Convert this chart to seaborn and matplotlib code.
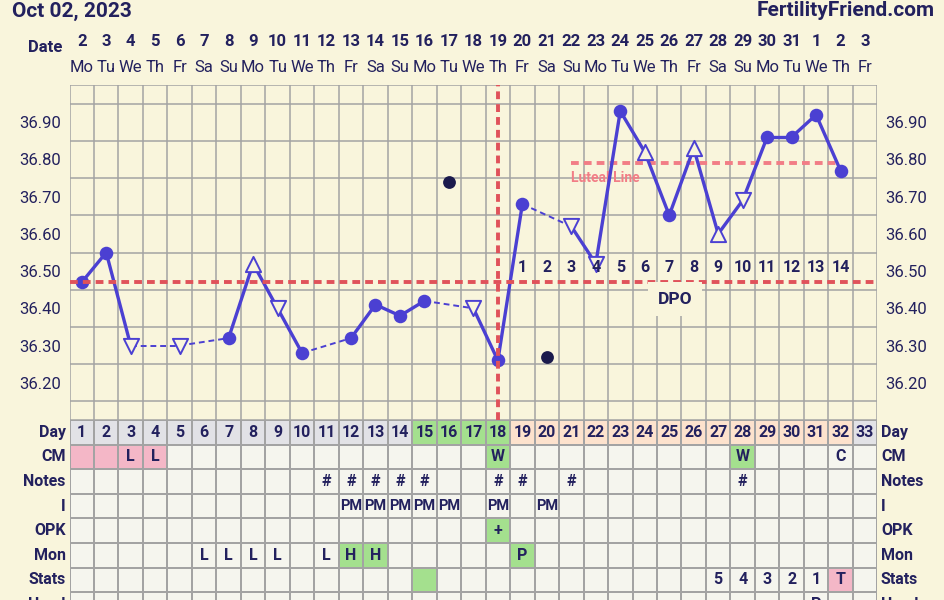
import numpy as np
import pandas as pd
import matplotlib
matplotlib.use("Agg")
import matplotlib.pyplot as plt
import seaborn as sns
from matplotlib.colors import ListedColormap

# ---------------- data ----------------
title_left = "Oct 02, 2023"
title_right = "FertilityFriend.com"
cycle_days = list(range(1, 34))
date_labels = ["2", "3", "4", "5", "6", "7", "8", "9", "10", "11", "12", "13", "14", "15",
               "16", "17", "18", "19", "20", "21", "22", "23", "24", "25", "26", "27",
               "28", "29", "30", "31", "1", "2", "3"]
weekday_labels = ["Mo", "Tu", "We", "Th", "Fr", "Sa", "Su"] * 4 + ["Mo", "Tu", "We", "Th", "Fr"]

temp_days = [1, 2, 3, 5, 7, 8, 9, 10, 12, 13, 14, 15, 17, 18, 19,
             21, 22, 23, 24, 25, 26, 27, 28, 29, 30, 31, 32]
temp_values = [36.47, 36.55, 36.30, 36.30, 36.32, 36.52, 36.40, 36.28, 36.32, 36.41,
               36.38, 36.42, 36.40, 36.26, 36.68, 36.62, 36.52, 36.93, 36.82, 36.65,
               36.83, 36.60, 36.69, 36.86, 36.86, 36.92, 36.77]
temp_markers = ["o", "o", "v", "v", "o", "^", "v", "o", "o", "o", "o", "o", "v", "o", "o",
                "v", "v", "o", "^", "o", "^", "^", "v", "o", "o", "o", "o"]

discard_days = [16, 20]
discard_values = [36.74, 36.27]

coverline_temp = 36.47
ovulation_day = 18
luteal_temp = 36.79
luteal_start, luteal_end = 21, 31.9
dpo_days = list(range(19, 33))
dpo_labels = [str(i) for i in range(1, 15)]
temp_ticks = [36.20, 36.30, 36.40, 36.50, 36.60, 36.70, 36.80, 36.90]

row_names = ["Day", "CM", "Notes", "I", "OPK", "Mon", "Stats", "Head"]
# cell colour codes: 0 plain, 1 grey, 2 green, 3 peach, 4 pink
day_row_colors = [1] * 14 + [2] * 4 + [3] * 14 + [1]
cm_colored = {1: 4, 2: 4, 3: 4, 4: 4, 18: 2, 28: 2}
opk_colored = {18: 2}
mon_colored = {12: 2, 13: 2, 19: 2}
stats_colored = {15: 2, 32: 4}
cm_text = {3: "L", 4: "L", 18: "W", 28: "W", 32: "C"}
notes_text = {11: "#", 12: "#", 13: "#", 14: "#", 15: "#", 18: "#", 19: "#", 21: "#", 28: "#"}
i_text = {12: "PM", 13: "PM", 14: "PM", 15: "PM", 16: "PM", 18: "PM", 20: "PM"}
opk_text = {18: "+"}
mon_text = {6: "L", 7: "L", 8: "L", 9: "L", 11: "L", 12: "H", 13: "H", 19: "P"}
stats_text = {27: "5", 28: "4", 29: "3", 30: "2", 31: "1", 32: "T"}
head_text = {31: "P"}

# ---------------- style ----------------
BG = "#f9f5dc"
NAVY = "#23215e"
LINE = "#4b40d2"
GRID = "#a3a3a3"
RED = "#e0525a"
LUTEAL = "#f27d86"
CELL_COLORS = ["#f5f5ee", "#e2e2e6", "#a4e08e", "#fde2cd", "#f4b7c7"]

plt.rcParams["font.family"] = ["Roboto", "DejaVu Sans"]
plt.rcParams["text.color"] = NAVY

W, H = 944, 600
fig = plt.figure(figsize=(W / 100, H / 100), dpi=100, facecolor=BG)

L, R = 69.5, 877.3
TOP, BOT = 85, 420
ax = fig.add_axes([L / W, 1 - BOT / H, (R - L) / W, (BOT - TOP) / H])
ax.set_facecolor(BG)

# segments: solid between consecutive days, dashed across gaps
rows = []
for i in range(len(temp_days) - 1):
    kind = "solid" if temp_days[i + 1] - temp_days[i] == 1 else "dashed"
    rows.append(dict(day=temp_days[i], temp=temp_values[i], seg=i, kind=kind))
    rows.append(dict(day=temp_days[i + 1], temp=temp_values[i + 1], seg=i, kind=kind))
seg_df = pd.DataFrame(rows)
pts = pd.DataFrame(dict(day=temp_days, temp=temp_values, mk=temp_markers))

# luteal line (behind)
ax.plot([luteal_start, luteal_end], [luteal_temp, luteal_temp], color=LUTEAL, lw=2.8,
        linestyle=(0, (2, 1.3)), zorder=2)
ax.text(luteal_start, luteal_temp - 0.04, "Luteal Line", color=LUTEAL, fontsize=10,
        fontweight="bold", ha="left", va="center", zorder=2)

sns.lineplot(data=seg_df, x="day", y="temp", units="seg", estimator=None, sort=False,
             style="kind", dashes={"solid": "", "dashed": (3, 2)},
             size="kind", sizes={"solid": 2.4, "dashed": 1.4},
             color=LINE, legend=False, ax=ax, zorder=3)

circ = pts[pts.mk == "o"]
sns.scatterplot(data=circ, x="day", y="temp", color=LINE, s=95, linewidth=0,
                legend=False, ax=ax, zorder=4)
for mk in ["^", "v"]:
    sub = pts[pts.mk == mk]
    sns.scatterplot(data=sub, x="day", y="temp", marker=mk, color=LINE, facecolor=BG,
                    edgecolor=LINE, linewidth=1.4, s=120, legend=False, ax=ax, zorder=4)

sns.scatterplot(x=discard_days, y=discard_values, color="#1b1a4c", s=85, linewidth=0,
                legend=False, ax=ax, zorder=4)

# coverline and ovulation line (on top)
ax.axhline(coverline_temp, color=RED, lw=2.8, linestyle=(0, (2, 1.3)), zorder=5)
ax.axvline(ovulation_day, color=RED, lw=2.8, linestyle=(0, (2, 1.3)), zorder=5)

for d, lab in zip(dpo_days, dpo_labels):
    ax.text(d, 36.51, lab, fontsize=11.5, fontweight="bold", ha="center", va="center",
            color=NAVY, zorder=6)
ax.text(25.25, 36.425, "DPO", fontsize=12.5, fontweight="bold", ha="center", va="center",
        color=NAVY, zorder=6,
        bbox=dict(boxstyle="square,pad=0.55", fc=BG, ec="none"))

ax.set_xlim(0.5, 33.5)
ax.set_ylim(36.10, 37.00)
ax.set_xticks(np.arange(0.5, 34, 1), minor=True)
ax.set_xticks([])
ax.set_yticks(np.arange(36.10, 37.001, 0.05), minor=True)
ax.set_yticks(temp_ticks)
ax.set_yticklabels([f"{t:.2f}" for t in temp_ticks])
ax.tick_params(axis="y", which="both", length=0, pad=6, labelsize=12, labelcolor=NAVY,
               labelright=True, labelleft=True)
ax.tick_params(axis="x", which="both", length=0)
ax.grid(True, which="minor", color=GRID, lw=1.1, zorder=0)
ax.grid(False, which="major")
ax.set_axisbelow(True)
ax.set_xlabel("")
ax.set_ylabel("")
for s in ax.spines.values():
    s.set_visible(False)

# header labels
xt = ax.get_xaxis_transform()
for d, dl, wl in zip(cycle_days, date_labels, weekday_labels):
    ax.text(d, 1 + (TOP - 42) / (BOT - TOP), dl, transform=xt, ha="center", va="center",
            fontsize=12, fontweight="bold", color=NAVY, clip_on=False)
    ax.text(d, 1 + (TOP - 67) / (BOT - TOP), wl, transform=xt, ha="center", va="center",
            fontsize=12, color=NAVY, clip_on=False)
ax.text(-0.5, 1 + (TOP - 47) / (BOT - TOP), "Date", transform=xt, ha="center", va="center",
        fontsize=12, fontweight="bold", color=NAVY, clip_on=False)

fig.text(12 / W, 1 - 11 / H, title_left, ha="left", va="center", fontsize=15,
         fontweight="bold", color=NAVY)
fig.text(935 / W, 1 - 11 / H, title_right, ha="right", va="center", fontsize=15,
         fontweight="bold", color=NAVY)

# ---------------- table ----------------
nrow = len(row_names)
mat = np.zeros((nrow, 33))
mat[0] = day_row_colors
for d, c in cm_colored.items():
    mat[1, d - 1] = c
for d, c in opk_colored.items():
    mat[4, d - 1] = c
for d, c in mon_colored.items():
    mat[5, d - 1] = c
for d, c in stats_colored.items():
    mat[6, d - 1] = c

row_h = 24.6
tax = fig.add_axes([L / W, 0, (R - L) / W, (H - BOT) / H])
sns.heatmap(mat, cmap=ListedColormap(CELL_COLORS), vmin=-0.5, vmax=4.5, cbar=False,
            linewidths=1.2, linecolor=GRID, xticklabels=False, yticklabels=False, ax=tax)
tax.set_ylim((H - BOT) / row_h, 0)
tax.set_xlim(0, 33)
tax.tick_params(length=0)

texts = [{d: str(d) for d in cycle_days}, cm_text, notes_text, i_text, opk_text,
         mon_text, stats_text, head_text]
for r, tdict in enumerate(texts):
    for d, t in tdict.items():
        fs = 10.5 if t == "PM" else 11.5
        tax.text(d - 0.5, r + 0.5, t, ha="center", va="center", fontsize=fs,
                 fontweight="bold", color=NAVY, clip_on=False)
    tax.text(-0.15, r + 0.5, row_names[r], ha="right", va="center", fontsize=11.5,
             fontweight="bold", color=NAVY, clip_on=False)
    tax.text(33.15, r + 0.5, row_names[r], ha="left", va="center", fontsize=11.5,
             fontweight="bold", color=NAVY, clip_on=False)

fig.savefig("out.png", dpi=100, facecolor=BG)
